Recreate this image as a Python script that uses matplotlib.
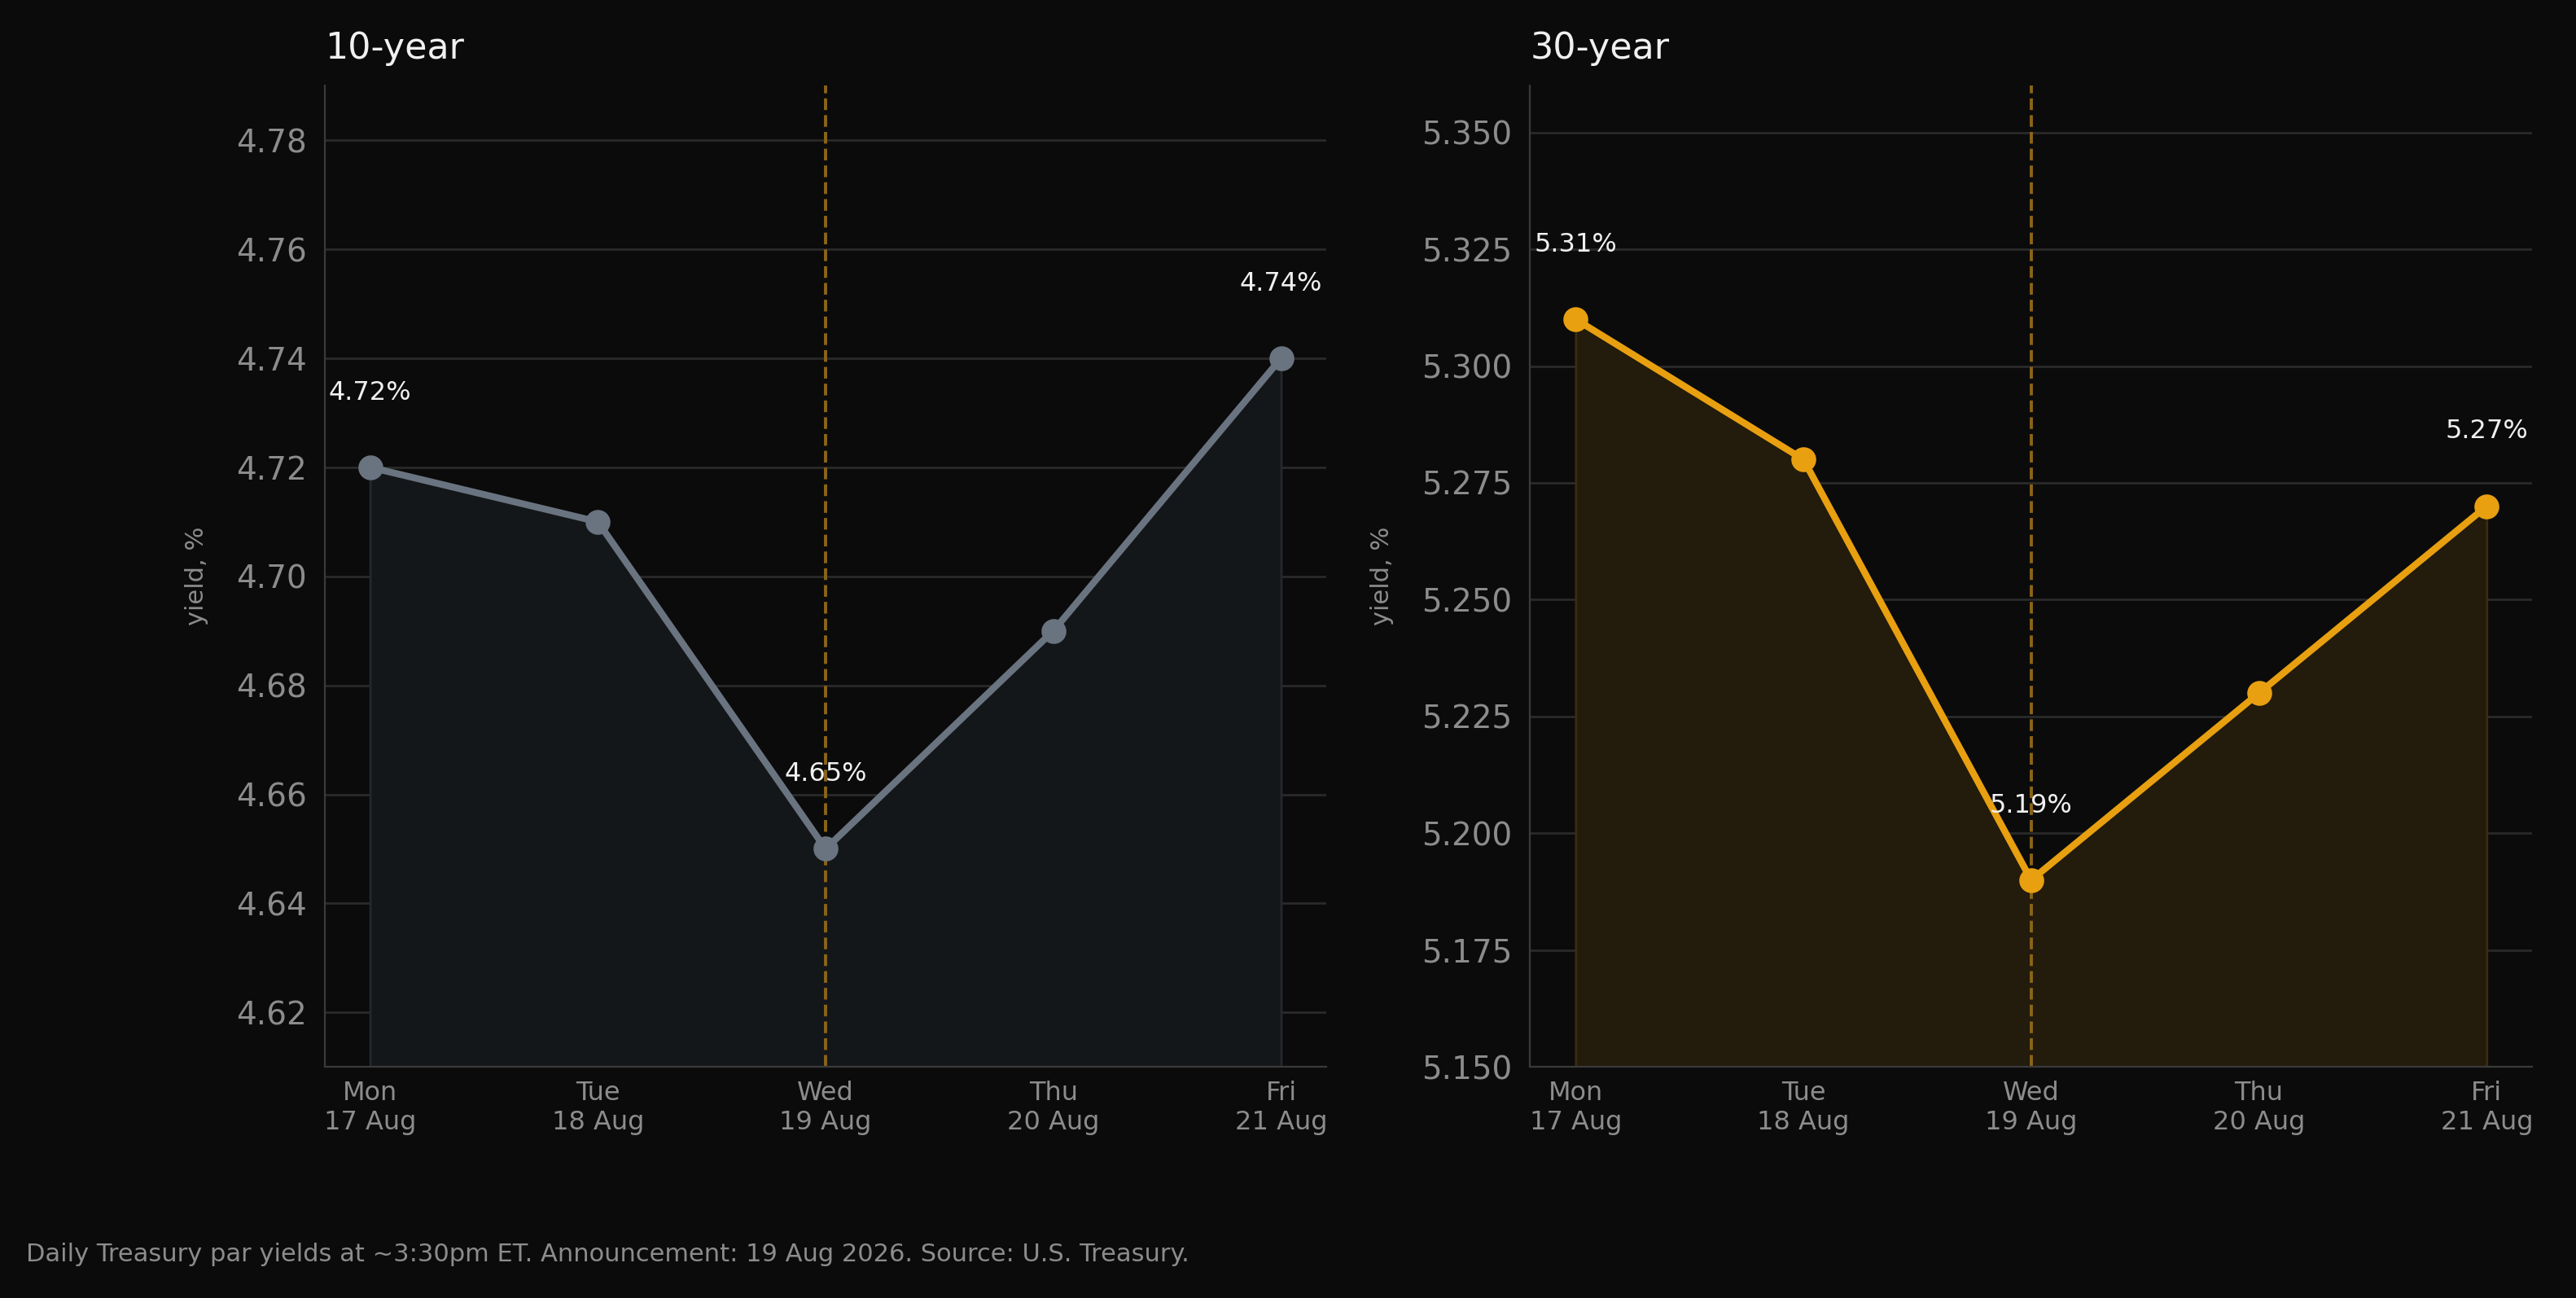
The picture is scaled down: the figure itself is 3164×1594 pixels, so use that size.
import matplotlib
matplotlib.use("Agg")
import matplotlib.pyplot as plt
import numpy as np

days = ["Mon\n17 Aug", "Tue\n18 Aug", "Wed\n19 Aug", "Thu\n20 Aug", "Fri\n21 Aug"]
y10 = [4.72, 4.71, 4.65, 4.69, 4.74]
y30 = [5.31, 5.28, 5.19, 5.23, 5.27]
labelled = [0, 2, 4]
announce_idx = 2

BG = "#0b0b0b"
fig = plt.figure(figsize=(15.82, 7.97), dpi=200, facecolor=BG)

def panel(rect, ys, color, fill, edge, title, ylim, ticks, fmt):
    ax = fig.add_axes(rect, facecolor=BG)
    x = np.arange(len(ys))
    ax.fill_between(x, ys, ylim[0], facecolor=fill, edgecolor=edge, lw=1, zorder=1)
    ax.plot(x, ys, color=color, lw=3, marker="o", ms=10, zorder=3)
    ax.axvline(announce_idx, color="#8a6418", ls="--", lw=1.4, zorder=2)
    for i in labelled:
        ax.annotate(f"{ys[i]:.2f}%", (x[i], ys[i]), xytext=(0, 33),
                    textcoords="offset points", ha="center", va="center",
                    color="#f0f0f0", fontsize=11.5)
    ax.set_xlim(-0.2, len(ys) - 0.8)
    ax.set_ylim(*ylim)
    ax.set_yticks(ticks)
    ax.set_yticklabels([fmt.format(t) for t in ticks])
    ax.set_xticks(x)
    ax.set_xticklabels(days)
    ax.tick_params(axis="y", colors="#8c8c8c", labelsize=14, length=0, pad=8)
    ax.tick_params(axis="x", colors="#8c8c8c", labelsize=11.5, length=0, pad=6)
    ax.grid(axis="y", color="#2a2a2a", lw=1)
    ax.set_axisbelow(True)
    for s in ["top", "right"]:
        ax.spines[s].set_visible(False)
    for s in ["left", "bottom"]:
        ax.spines[s].set_color("#3a3a3a")
    ax.set_ylabel("yield, %", color="#8c8c8c", fontsize=11, labelpad=12)
    ax.set_title(title, loc="left", color="#f0f0f0", fontsize=16, pad=12)
    return ax

panel([0.126, 0.178, 0.389, 0.756], y10, "#6a7480", "#141719", "#24282c", "10-year",
      (4.61, 4.79), np.arange(4.62, 4.781, 0.02), "{:.2f}")
panel([0.594, 0.178, 0.389, 0.756], y30, "#e8a010", "#231b0c", "#3a2c10", "30-year",
      (5.15, 5.36), np.arange(5.15, 5.351, 0.025), "{:.3f}")

fig.text(0.01, 0.028, "Daily Treasury par yields at ~3:30pm ET. Announcement: 19 Aug 2026. Source: U.S. Treasury.",
         color="#8c8c8c", fontsize=11)
fig.savefig("out.png", facecolor=BG)
